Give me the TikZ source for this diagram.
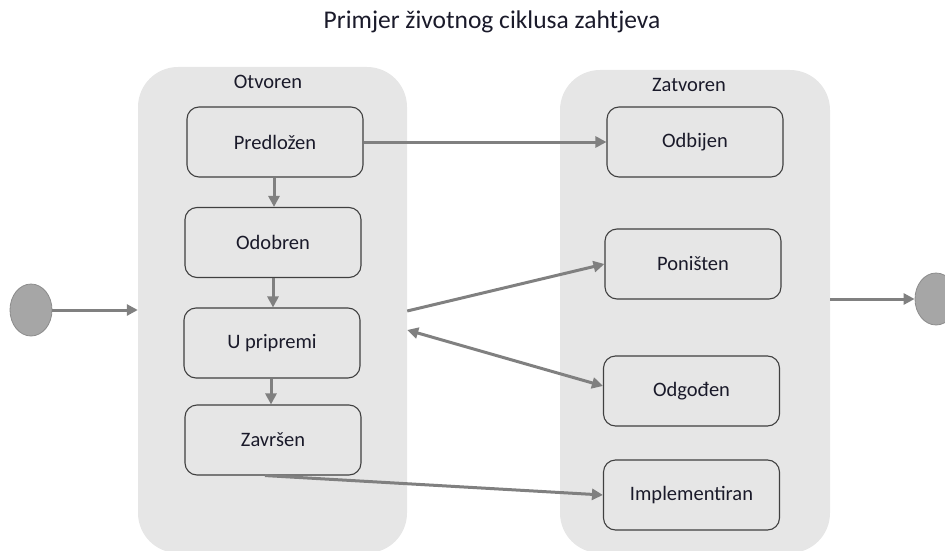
\documentclass[tikz,border=0pt]{standalone}
\usepackage{fontspec}
\setmainfont{Carlito}
\usetikzlibrary{arrows.meta,shapes.geometric}
\definecolor{contfill}{HTML}{E6E6E6}
\definecolor{boxline}{HTML}{404040}
\definecolor{arrowgray}{HTML}{808080}
\definecolor{startfill}{HTML}{A6A6A6}
\definecolor{startline}{HTML}{8C8C8C}
\definecolor{textcol}{HTML}{1A1A2A}
\begin{document}
\begin{tikzpicture}[x=1pt,y=-1pt,
  container/.style={fill=contfill, draw=none, rounded corners=40pt, inner sep=0pt},
  statebox/.style={draw=boxline, line width=1.1pt, fill=contfill, rounded corners=12pt,
    minimum width=176pt, minimum height=70pt, inner sep=0pt, text=textcol,
    font=\fontsize{20.5}{24}\selectfont},
  grouplabel/.style={font=\fontsize{20.5}{24}\selectfont, inner sep=0pt, text=textcol},
  endpoint/.style={ellipse, fill=startfill, draw=startline, line width=0.8pt,
    minimum width=42pt, minimum height=52pt, inner sep=0pt},
  flow/.style={draw=arrowgray, line width=3pt, -{Triangle[length=11pt,width=11pt]}, arrowgray},
  twoway/.style={draw=arrowgray, line width=3pt, {Triangle[length=11pt,width=11pt]}-{Triangle[length=11pt,width=11pt]}, arrowgray}
]
\useasboundingbox (0,0) rectangle (945,551);

\node[font=\fontsize{25.5}{30}\selectfont, inner sep=0pt, text=textcol] (title) at (492,22) {Primjer životnog ciklusa zahtjeva};

\node[container, minimum width=269pt, minimum height=486pt] (openc) at (272.5,310) {};
\node[container, minimum width=270pt, minimum height=483pt] (closedc) at (695,311.5) {};

\node[grouplabel] (openlbl) at (268,82) {Otvoren};
\node[grouplabel] (closedlbl) at (689,85) {Zatvoren};

\node[statebox] (pred) at (275,142) {Predložen};
\node[statebox] (odo) at (273,242.5) {Odobren};
\node[statebox] (upr) at (272,343) {U pripremi};
\node[statebox] (zav) at (273,440) {Završen};

\node[statebox] (odb) at (695,142) {Odbijen};
\node[statebox] (pon) at (693,264) {Poništen};
\node[statebox] (odg) at (691.5,391) {Odgođen};
\node[statebox] (imp) at (691.5,495) {Implementiran};

\node[endpoint] (init) at (31,310) {};
\node[endpoint] (fin) at (936,299) {};

\draw[flow] (init.east) -- (openc.west |- init);
\draw[flow] (closedc.east |- fin) -- (fin.west);

\draw[flow] (pred.east) -- (odb.west);
\draw[flow] ([xshift=-1pt]pred.south) -- ([xshift=-1pt]pred.south |- odo.north);
\draw[flow] (odo.south) -- (odo.south |- upr.north);
\draw[flow] ([xshift=-1pt]upr.south) -- ([xshift=-1pt]upr.south |- zav.north);

\draw[flow] ([yshift=-1pt]openc.east) -- (pon.west);
\draw[twoway] ([yshift=-20pt]openc.east) -- ([yshift=5pt]odg.west);
\draw[flow] ([xshift=-8pt]zav.south) -- (imp.west);
\end{tikzpicture}
\end{document}
